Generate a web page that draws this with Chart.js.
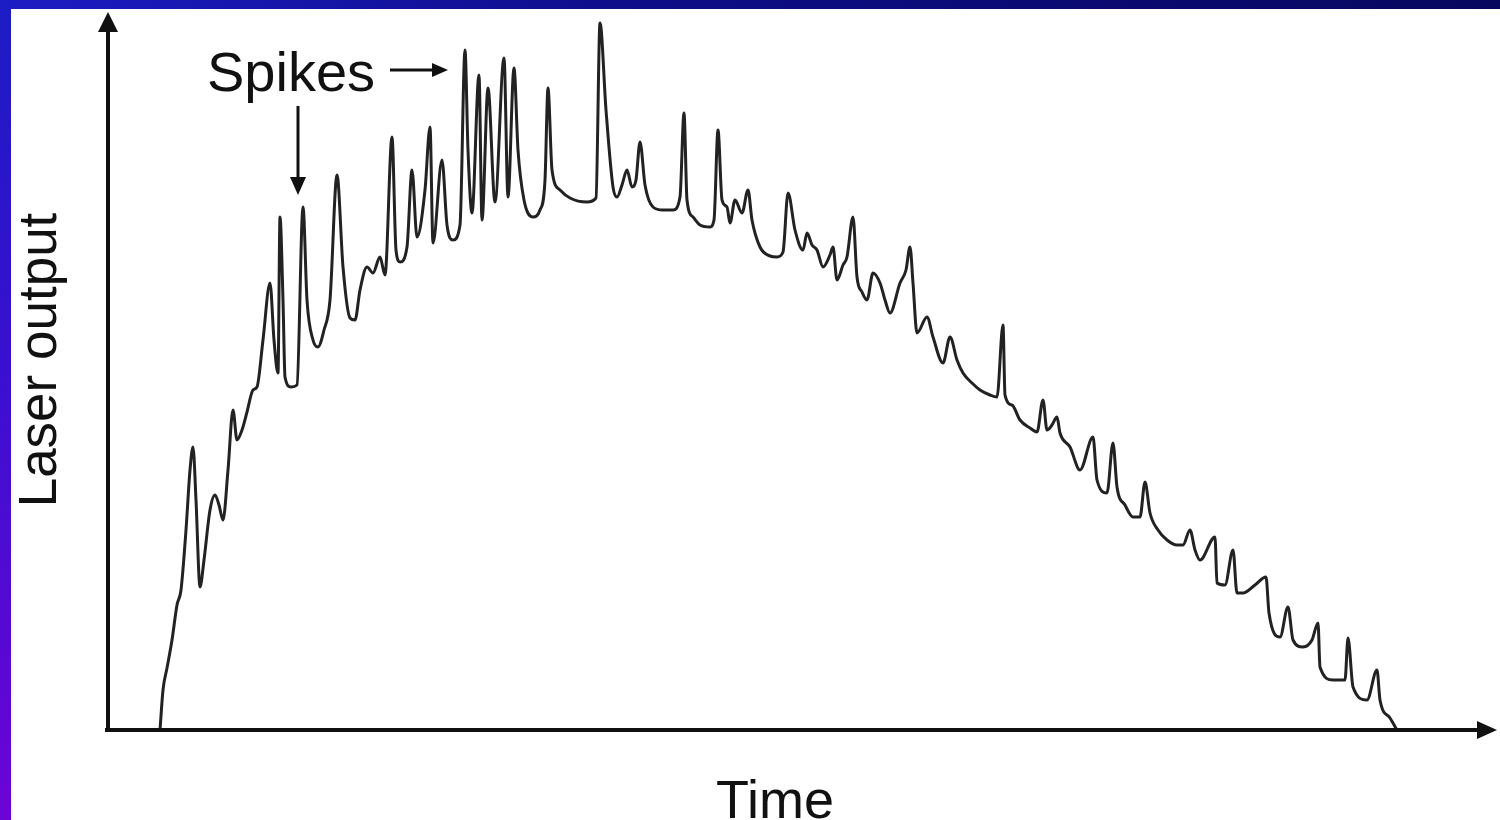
<!DOCTYPE html>
<html>
<head>
<meta charset="utf-8">
<title>Laser output spikes</title>
<script src="https://cdn.jsdelivr.net/npm/chart.js@4.4.1/dist/chart.umd.min.js"></script>
<style>
  html, body { margin: 0; padding: 0; background: #fff; overflow: hidden; }
  #frameTop {
    position: absolute; left: 0; top: 0; width: 1500px; height: 9px;
    background: linear-gradient(to right, #1c1cc4, #0d0d86 45%, #07075e);
  }
  #frameLeft {
    position: absolute; left: 0; top: 0; width: 11px; height: 820px;
    background: linear-gradient(to bottom, #1c1cc4, #3a10d0 45%, #6c04d6);
  }
  #chart { position: absolute; left: 0; top: 0; }
</style>
</head>
<body>
<div id="frameTop"></div>
<div id="frameLeft"></div>
<canvas id="chart" width="1500" height="820"></canvas>
<script>
// Time (arbitrary units) and laser output (arbitrary units)
const timeValues = [
  52, 55, 59, 64, 69, 73, 78, 82, 85, 88, 92, 96, 102, 107, 111, 115, 120, 125, 129, 134,
  139, 145, 149, 155, 162, 166, 170, 172, 175, 177, 183, 189, 195, 199, 205, 210, 216, 222, 229, 235,
  242, 247, 252, 259, 265, 272, 277, 284, 288, 292, 299, 304, 309, 317, 322, 325, 334, 339, 345, 352,
  357, 360, 364, 371, 374, 380, 387, 396, 400, 406, 410, 416, 425, 432, 437, 440, 444, 452, 462, 479,
  488, 492, 498, 505, 509, 514, 519, 524, 528, 532, 537, 545, 555, 565, 572, 576, 579, 585, 592, 602,
  606, 610, 614, 619, 622, 627, 634, 640, 644, 652, 662, 669, 675, 680, 687, 695, 699, 704, 709, 715,
  722, 725, 729, 735, 739, 745, 749, 754, 759, 765, 772, 777, 782, 792, 798, 802, 805, 809, 819, 825,
  835, 842, 849, 855, 864, 872, 882, 889, 895, 897, 904, 912, 922, 929, 935, 939, 944, 949, 952, 962,
  972, 985, 989, 999, 1005, 1009, 1017, 1025, 1032, 1037, 1042, 1050, 1059, 1069, 1075, 1082, 1087, 1092, 1107, 1109,
  1117, 1125, 1129, 1135, 1147, 1158, 1161, 1172, 1180, 1185, 1195, 1204, 1210, 1212, 1225, 1237, 1240, 1245, 1259, 1269,
  1272, 1282, 1289
];
const outputValues = [
  0, 40, 62, 90, 125, 140, 200, 260, 283, 230, 143, 170, 220, 235, 225, 210, 260, 320, 290, 300,
  318, 340, 343, 390, 447, 390, 357, 513, 430, 353, 343, 345, 523, 430, 390, 383, 400, 430, 555, 463,
  412, 410, 440, 463, 457, 473, 455, 593, 480, 468, 483, 560, 493, 540, 603, 487, 570, 505, 490, 505,
  680, 580, 517, 655, 510, 642, 528, 672, 533, 662, 580, 530, 513, 520, 550, 642, 560, 540, 532, 528,
  532, 707, 620, 543, 533, 545, 560, 543, 550, 588, 545, 523, 520, 520, 533, 617, 530, 513, 505, 503,
  510, 600, 530, 523, 507, 530, 517, 540, 510, 483, 474, 473, 478, 537, 500, 480, 497, 485, 480, 463,
  475, 483, 450, 465, 473, 513, 453, 438, 430, 457, 447, 430, 417, 447, 460, 483, 447, 397, 413, 393,
  367, 393, 370, 357, 347, 340, 335, 333, 405, 335, 325, 310, 302, 298, 330, 300, 305, 313, 297, 283,
  260, 293, 250, 237, 287, 243, 225, 213, 213, 248, 217, 200, 190, 185, 185, 200, 180, 170, 193, 147,
  145, 180, 137, 137, 145, 153, 117, 93, 123, 90, 83, 90, 107, 63, 50, 50, 92, 43, 30, 60,
  30, 12, 0
];
const xAxisLabel = "Time";
const yAxisLabel = "Laser output";
const annotationText = "Spikes";
// spikes the annotation arrows point at (time, output)
const downArrowTarget = [190, 535];
const rightArrowTarget = [340, 660];

const FONT = '"Liberation Sans", Arial, Helvetica, sans-serif';

const points = timeValues.map((t, i) => ({ x: t, y: outputValues[i] }));

function arrowHead(ctx, tipX, tipY, dir, len, half) {
  ctx.beginPath();
  if (dir === "up") {
    ctx.moveTo(tipX, tipY);
    ctx.lineTo(tipX - half, tipY + len);
    ctx.lineTo(tipX + half, tipY + len);
  } else if (dir === "down") {
    ctx.moveTo(tipX, tipY);
    ctx.lineTo(tipX - half, tipY - len);
    ctx.lineTo(tipX + half, tipY - len);
  } else {
    ctx.moveTo(tipX, tipY);
    ctx.lineTo(tipX - len, tipY - half);
    ctx.lineTo(tipX - len, tipY + half);
  }
  ctx.closePath();
  ctx.fill();
}

// axes with arrows, axis titles and the "Spikes" note
const sketchAxes = {
  id: "sketchAxes",
  afterDraw(chart) {
    const { ctx, scales: { x, y } } = chart;
    const x0 = x.getPixelForValue(0);
    const y0 = y.getPixelForValue(0);
    const xEnd = x.getPixelForValue(x.max);
    const yEnd = y.getPixelForValue(y.max);

    ctx.save();
    ctx.strokeStyle = "#111";
    ctx.fillStyle = "#111";
    ctx.lineWidth = 4;
    ctx.lineCap = "butt";

    // y axis
    ctx.beginPath();
    ctx.moveTo(x0, y0 + 2);
    ctx.lineTo(x0, yEnd + 12);
    ctx.stroke();
    arrowHead(ctx, x0, yEnd, "up", 20, 10);

    // x axis
    ctx.beginPath();
    ctx.moveTo(x0 - 3, y0);
    ctx.lineTo(xEnd - 12, y0);
    ctx.stroke();
    arrowHead(ctx, xEnd, y0, "right", 20, 9);

    // axis titles
    ctx.textAlign = "center";
    ctx.textBaseline = "alphabetic";
    ctx.font = "54px " + FONT;
    ctx.fillText(xAxisLabel, 775, 818);

    ctx.save();
    ctx.translate(56, 360);
    ctx.rotate(-Math.PI / 2);
    ctx.font = "53px " + FONT;
    ctx.fillText(yAxisLabel, 0, 0);
    ctx.restore();

    // "Spikes" label with arrows
    ctx.font = "56px " + FONT;
    ctx.textAlign = "left";
    ctx.fillText(annotationText, 207, 91);

    const dx = x.getPixelForValue(downArrowTarget[0]);
    const dy = y.getPixelForValue(downArrowTarget[1]);
    ctx.lineWidth = 3;
    ctx.beginPath();
    ctx.moveTo(dx, 106);
    ctx.lineTo(dx, dy - 14);
    ctx.stroke();
    arrowHead(ctx, dx, dy, "down", 18, 8);

    const rx = x.getPixelForValue(rightArrowTarget[0]);
    const ry = y.getPixelForValue(rightArrowTarget[1]);
    ctx.beginPath();
    ctx.moveTo(390, ry);
    ctx.lineTo(rx - 12, ry);
    ctx.stroke();
    arrowHead(ctx, rx, ry, "right", 16, 7);

    ctx.restore();
  }
};

new Chart(document.getElementById("chart"), {
  type: "line",
  data: {
    datasets: [{
      data: points,
      borderColor: "#222",
      borderWidth: 3,
      pointRadius: 0,
      fill: false,
      cubicInterpolationMode: "monotone"
    }]
  },
  options: {
    responsive: false,
    animation: false,
    layout: { padding: { left: 108, right: 3, top: 12, bottom: 90 } },
    plugins: { legend: { display: false }, tooltip: { enabled: false } },
    scales: {
      x: { type: "linear", min: 0, max: 1389, display: false },
      y: { type: "linear", min: 0, max: 718, display: false }
    }
  },
  plugins: [sketchAxes]
});
</script>
</body>
</html>
